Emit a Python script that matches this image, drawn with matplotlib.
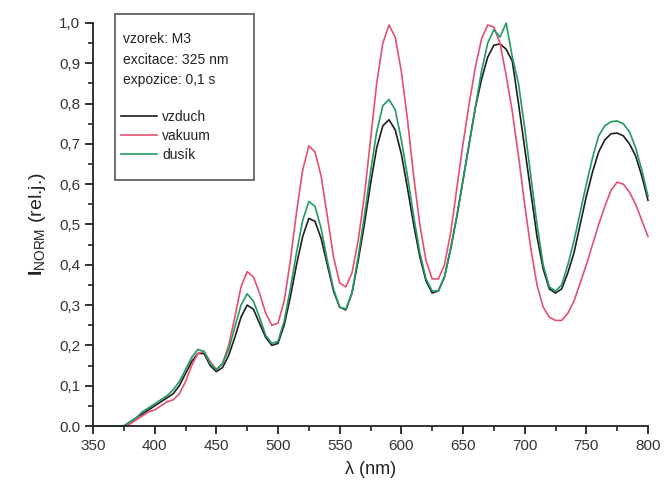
import matplotlib
matplotlib.use("Agg")
import matplotlib.pyplot as plt
from matplotlib.patches import Rectangle
from matplotlib.ticker import MultipleLocator, FixedLocator

plt.rcParams['font.family'] = ['Liberation Sans', 'DejaVu Sans']
plt.rcParams['mathtext.fontset'] = 'custom'
plt.rcParams['mathtext.rm'] = 'Liberation Sans'
plt.rcParams['mathtext.bf'] = 'Liberation Sans:bold'

# wavelength grid (nm)
wavelength = list(range(350, 805, 5))

vzduch = [0, 0, 0, 0, 0, 0, 0.01, 0.02, 0.03, 0.04,          # 350-395
          0.05, 0.06, 0.07, 0.08, 0.10, 0.13, 0.16, 0.18, 0.18, 0.15,   # 400-445
          0.135, 0.145, 0.175, 0.22, 0.27, 0.30, 0.29, 0.255, 0.22, 0.20,  # 450-495
          0.205, 0.25, 0.32, 0.40, 0.47, 0.515, 0.508, 0.465, 0.40, 0.335,  # 500-545
          0.295, 0.288, 0.33, 0.41, 0.50, 0.60, 0.69, 0.745, 0.76, 0.735,  # 550-595
          0.675, 0.59, 0.50, 0.42, 0.36, 0.33, 0.335, 0.37, 0.44, 0.52,    # 600-645
          0.61, 0.70, 0.79, 0.86, 0.915, 0.945, 0.948, 0.935, 0.905, 0.80, # 650-695
          0.69, 0.58, 0.47, 0.39, 0.34, 0.33, 0.34, 0.38, 0.43, 0.50,      # 700-745
          0.57, 0.63, 0.68, 0.71, 0.725, 0.727, 0.72, 0.70, 0.67, 0.62,    # 750-795
          0.56]                                                          # 800

vakuum = [0, 0, 0, 0, 0, 0, 0.005, 0.015, 0.025, 0.035,
          0.04, 0.05, 0.06, 0.065, 0.08, 0.11, 0.15, 0.18, 0.185, 0.16,
          0.14, 0.155, 0.20, 0.27, 0.345, 0.383, 0.37, 0.33, 0.28, 0.25,
          0.255, 0.31, 0.41, 0.53, 0.635, 0.695, 0.68, 0.62, 0.52, 0.42,
          0.355, 0.345, 0.38, 0.46, 0.57, 0.71, 0.85, 0.95, 0.995, 0.965,
          0.88, 0.76, 0.62, 0.50, 0.41, 0.365, 0.365, 0.40, 0.48, 0.59,
          0.70, 0.80, 0.89, 0.96, 0.995, 0.99, 0.95, 0.87, 0.78, 0.67,
          0.55, 0.44, 0.35, 0.295, 0.27, 0.262, 0.262, 0.28, 0.31, 0.355,
          0.40, 0.45, 0.50, 0.545, 0.585, 0.605, 0.60, 0.58, 0.55, 0.51,
          0.47]

dusik = [0, 0, 0, 0, 0, 0, 0.01, 0.02, 0.035, 0.045,
         0.055, 0.065, 0.075, 0.09, 0.11, 0.14, 0.17, 0.19, 0.185, 0.155,
         0.14, 0.155, 0.19, 0.245, 0.30, 0.328, 0.31, 0.27, 0.225, 0.205,
         0.21, 0.26, 0.34, 0.43, 0.51, 0.557, 0.545, 0.49, 0.41, 0.34,
         0.295, 0.29, 0.33, 0.42, 0.52, 0.63, 0.73, 0.795, 0.81, 0.785,
         0.71, 0.62, 0.52, 0.43, 0.365, 0.335, 0.335, 0.37, 0.44, 0.52,
         0.61, 0.70, 0.79, 0.88, 0.95, 0.983, 0.965, 1.0, 0.915, 0.85,
         0.74, 0.62, 0.50, 0.40, 0.345, 0.335, 0.35, 0.40, 0.46, 0.53,
         0.60, 0.665, 0.72, 0.745, 0.755, 0.757, 0.75, 0.73, 0.69, 0.635,
         0.57]

series_labels = ["vzduch", "vakuum", "dusík"]
series_colors = ["#1e1e1e", "#e4506f", "#249a62"]

x_ticks = [350, 400, 450, 500, 550, 600, 650, 700, 750, 800]
y_ticks = [0.0, 0.1, 0.2, 0.3, 0.4, 0.5, 0.6, 0.7, 0.8, 0.9, 1.0]
y_ticklabels = ["0.0", "0,1", "0,2", "0,3", "0,4", "0,5", "0,6", "0,7", "0,8", "0,9", "1,0"]

info_lines = ["vzorek: M3", "excitace: 325 nm", "expozice: 0,1 s"]

W, H = 665, 490
fig = plt.figure(figsize=(W / 100, H / 100), dpi=100)
ax = fig.add_axes([93 / W, 1 - 426 / H, (648 - 93) / W, (426 - 23) / H])

handles = []
for data, lab, col in zip([vzduch, vakuum, dusik], series_labels, series_colors):
    h, = ax.plot(wavelength, data, color=col, lw=1.2, label=lab, clip_on=False,
                 solid_joinstyle="round")
    handles.append(h)

ax.set_xlim(350, 800)
ax.set_ylim(0, 1.0)
ax.xaxis.set_major_locator(FixedLocator(x_ticks))
ax.xaxis.set_minor_locator(MultipleLocator(25))
ax.yaxis.set_major_locator(FixedLocator(y_ticks))
ax.yaxis.set_minor_locator(MultipleLocator(0.05))
ax.set_yticklabels(y_ticklabels)

for s in ["top", "right"]:
    ax.spines[s].set_visible(False)
for s in ["left", "bottom"]:
    ax.spines[s].set_linewidth(1.3)
    ax.spines[s].set_color("#222222")

ax.tick_params(which="major", direction="out", length=6, width=1.3, color="#222222",
               labelsize=11, labelcolor="#333333", pad=3)
ax.tick_params(which="minor", direction="out", length=3.5, width=1.2, color="#222222")

ax.set_xlabel("λ (nm)", fontsize=13, color="#222222", labelpad=6)
ax.set_ylabel(r"$\mathbf{I}_{\mathrm{NORM}}$ (rel.j.)", fontsize=14, color="#222222", labelpad=8)

# info box
fig.patches.append(Rectangle((115 / W, 1 - 180 / H), (254 - 115) / W, (180 - 14) / H,
                             transform=fig.transFigure, fill=False, edgecolor="#555555",
                             lw=1.2))
for i, t in enumerate(info_lines):
    fig.text(123 / W, 1 - (39 + 20.5 * i) / H, t, fontsize=10, color="#222222",
             va="center", ha="left")

leg = fig.legend(handles=handles, loc="upper left",
                 bbox_to_anchor=(121 / W, 1 - 110 / H), bbox_transform=fig.transFigure,
                 frameon=False, fontsize=10, handlelength=2.6, handletextpad=0.35,
                 labelspacing=0.35, borderpad=0, borderaxespad=0)
for t in leg.get_texts():
    t.set_color("#222222")

fig.savefig("out.png", dpi=100)
